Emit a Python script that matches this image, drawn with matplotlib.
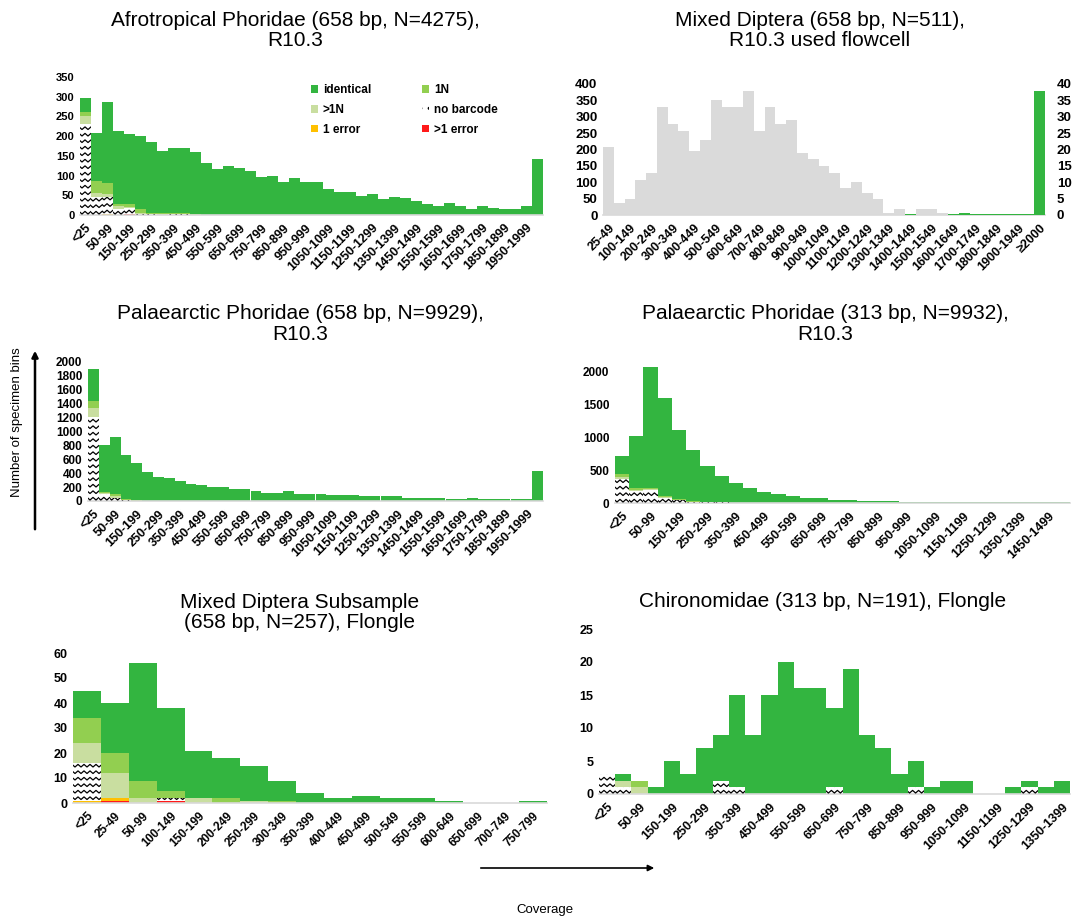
"""
Coverage histograms of specimen bins for six sequencing runs, stacked by
barcode outcome (identical / 1N / >1N / no barcode / 1 error / >1 error).
"""

import numpy as np
import matplotlib
import matplotlib.pyplot as plt
from matplotlib.lines import Line2D
from matplotlib.patches import Patch, FancyArrowPatch
from matplotlib.transforms import IdentityTransform

matplotlib.use('Agg')
plt.rcParams['font.family'] = ['Liberation Sans', 'DejaVu Sans']

# =============================================================================
# DATA
# =============================================================================

CATS_AFRO = ['<25', '25-49'] + [f'{a}-{a + 49}' for a in range(50, 2000, 50)] + ['\u22652000']
CATS_MIXED = ['25-49'] + [f'{a}-{a + 49}' for a in range(50, 2000, 50)] + ['\u22652000']
CATS_PAL313 = ['<25', '25-49'] + [f'{a}-{a + 49}' for a in range(50, 1500, 50)] + ['\u22651500']
CATS_SUB = ['<25', '25-49'] + [f'{a}-{a + 49}' for a in range(50, 800, 50)]
CATS_CHIR = ['<25', '25-49'] + [f'{a}-{a + 49}' for a in range(50, 1400, 50)]

# Afrotropical Phoridae (658 bp)
afro_identical = [38, 120, 206, 185, 176, 185, 180, 158, 165, 166, 158, 131, 116, 124,
                  118, 112, 97, 99, 84, 93, 83, 83, 67, 59, 59, 48, 53, 40, 46, 44,
                  36, 28, 24, 31, 24, 15, 24, 19, 15, 15, 24, 141]
afro_1n = [10, 32, 28, 5, 8, 10, 3, 2, 2, 1, 1, 1, 0, 0, 0, 0, 0, 0, 0, 0, 0,
           0, 0, 0, 0, 0, 0, 0, 0, 0, 0, 0, 0, 0, 0, 0, 0, 0, 0, 0, 0, 0]
afro_gt1n = [20, 10, 8, 8, 3, 2, 1, 1, 1, 1, 0, 0, 0, 0, 0, 0, 0, 0, 0, 0, 0,
             0, 0, 0, 0, 0, 0, 0, 0, 0, 0, 0, 0, 0, 0, 0, 0, 0, 0, 0, 0, 0]
afro_nobarcode = [230, 45, 42, 15, 15, 3, 2, 1, 2, 2, 1, 0, 0, 0, 0, 0, 0, 0, 0, 0, 0,
                  0, 0, 0, 0, 0, 0, 0, 0, 0, 0, 0, 0, 0, 0, 0, 0, 0, 0, 0, 0, 0]
afro_err1 = [0, 0, 3, 0, 0, 0, 0, 0, 0, 0, 0, 0, 0, 0, 0, 0, 0, 0, 0, 0, 0,
             0, 0, 0, 0, 0, 0, 0, 0, 0, 0, 0, 0, 0, 0, 0, 0, 0, 0, 0, 0, 0]
afro_errgt1 = [0, 0, 0, 0, 3, 0, 0, 0, 0, 0, 0, 0, 0, 0, 0, 0, 0, 0, 0, 0, 0,
               0, 0, 0, 0, 0, 0, 0, 0, 0, 0, 0, 0, 0, 0, 0, 0, 0, 0, 0, 0, 0]

# Mixed Diptera (658 bp), used flowcell: grey on left axis, green on right axis
mixed_grey = [209, 38, 48, 107, 128, 330, 279, 258, 196, 230, 350, 330, 330, 380,
              257, 330, 278, 291, 189, 170, 150, 128, 82, 100, 68, 48, 7, 18, 0,
              18, 18, 5, 0, 0, 0, 0, 0, 0, 0, 0, 0]
mixed_green = [0, 0, 0, 0, 0, 0, 0, 0, 0, 0, 0, 0, 0, 0, 0, 0, 0, 0, 0, 0, 0, 0,
               0, 0, 0, 0, 0, 0, 0.3, 0, 0, 0, 0.3, 0.7, 0.3, 0.3, 0.3, 0.3, 0.3,
               0.3, 38]

# Palaearctic Phoridae (658 bp)
pal658_identical = [458, 670, 825, 630, 539, 419, 347, 333, 289, 241, 227, 202, 202,
                    178, 178, 140, 116, 116, 140, 106, 106, 96, 87, 87, 87, 72, 72,
                    67, 67, 48, 48, 48, 43, 29, 29, 48, 24, 24, 24, 24, 24, 434]
pal658_1n = [96, 20, 30, 15, 10, 0, 0, 0, 0, 0, 0, 0, 0, 0, 0, 0, 0, 0, 0, 0, 0,
             0, 0, 0, 0, 0, 0, 0, 0, 0, 0, 0, 0, 0, 0, 0, 0, 0, 0, 0, 0, 0]
pal658_gt1n = [140, 15, 20, 5, 0, 0, 0, 0, 0, 0, 0, 0, 0, 0, 0, 0, 0, 0, 0, 0, 0,
               0, 0, 0, 0, 0, 0, 0, 0, 0, 0, 0, 0, 0, 0, 0, 0, 0, 0, 0, 0, 0]
pal658_nobarcode = [1205, 100, 50, 10, 0, 0, 0, 0, 0, 0, 0, 0, 0, 0, 0, 0, 0, 0, 0, 0, 0,
                    0, 0, 0, 0, 0, 0, 0, 0, 0, 0, 0, 0, 0, 0, 0, 0, 0, 0, 0, 0, 0]

# Palaearctic Phoridae (313 bp)
pal313_identical = [284, 783, 1821, 1495, 1049, 775, 547, 400, 309, 233, 172, 142,
                    101, 76, 76, 51, 51, 30, 30, 30, 15, 15, 10, 10, 10, 10, 8, 8,
                    8, 8, 8, 8]
pal313_1n = [35, 30, 20, 20, 15, 5, 0, 0, 0, 0, 0, 0, 0, 0, 0, 0,
             0, 0, 0, 0, 0, 0, 0, 0, 0, 0, 0, 0, 0, 0, 0, 0]
pal313_gt1n = [30, 20, 15, 5, 0, 0, 0, 0, 0, 0, 0, 0, 0, 0, 0, 0,
               0, 0, 0, 0, 0, 0, 0, 0, 0, 0, 0, 0, 0, 0, 0, 0]
pal313_nobarcode = [370, 180, 200, 80, 50, 20, 15, 10, 0, 0, 0, 0, 0, 0, 0, 0,
                    0, 0, 0, 0, 0, 0, 0, 0, 0, 0, 0, 0, 0, 0, 0, 0]

# Mixed Diptera subsample (658 bp), Flongle
sub_identical = [11, 20, 47, 33, 19, 16, 14, 8, 4, 2, 3, 2, 2, 1, 0, 0, 1]
sub_1n = [10, 8, 7, 3, 0, 2, 0, 1, 0, 0, 0, 0, 0, 0, 0, 0, 0]
sub_gt1n = [8, 10, 2, 0, 2, 0, 1, 0, 0, 0, 0, 0, 0, 0, 0, 0, 0]
sub_nobarcode = [15, 0, 0, 1, 0, 0, 0, 0, 0, 0, 0, 0, 0, 0, 0, 0, 0]
sub_err1 = [1, 1, 0, 0, 0, 0, 0, 0, 0, 0, 0, 0, 0, 0, 0, 0, 0]
sub_errgt1 = [0, 1, 0, 1, 0, 0, 0, 0, 0, 0, 0, 0, 0, 0, 0, 0, 0]

# Chironomidae (313 bp), Flongle
chir_identical = [0, 1, 0, 1, 5, 3, 7, 7, 14, 9, 15, 20, 16, 16, 12, 19, 9, 7, 3,
                  4, 1, 2, 2, 0, 0, 1, 1, 1, 2]
chir_1n = [0, 0, 1, 0, 0, 0, 0, 0, 0, 0, 0, 0, 0, 0, 0, 0, 0, 0, 0,
           0, 0, 0, 0, 0, 0, 0, 0, 0, 0]
chir_gt1n = [0, 1, 1, 0, 0, 0, 0, 0, 0, 0, 0, 0, 0, 0, 0, 0, 0, 0, 0,
             0, 0, 0, 0, 0, 0, 0, 0, 0, 0]
chir_nobarcode = [3, 1, 0, 0, 0, 0, 0, 2, 1, 0, 0, 0, 0, 0, 1, 0, 0, 0, 0,
                  1, 0, 0, 0, 0, 0, 0, 1, 0, 0]

# =============================================================================
# STYLE
# =============================================================================

C_IDENT = '#33b540'
C_1N = '#92cf50'
C_GT1N = '#c9dea0'
C_ERR1 = '#ffc000'
C_ERRGT1 = '#ff1a1a'
C_GREY = '#dadada'
W, H = 1073, 919


def px_box(left, right, bottom, top):
    """Axes rectangle from pixel edges of the reference image."""
    return [left / W, 1 - bottom / H, (right - left) / W, (bottom - top) / H]


def zigzag(fig, bars):
    """White bars with a black wavy (chevron) texture, clipped to each bar."""
    for rect in bars:
        if rect.get_height() <= 0:
            continue
        bb = rect.get_window_extent()
        xs = np.arange(bb.x0 - 4, bb.x1 + 4, 3.0)
        y = bb.y0 + 1.0
        while y < bb.y1 + 3:
            ys = y + 2.6 * (np.arange(len(xs)) % 2)
            ln = Line2D(xs, ys, transform=IdentityTransform(), color='black',
                        lw=0.9, zorder=3)
            ln.set_clip_path(rect)
            fig.add_artist(ln)
            y += 6.5


def bold_ticks(labels, size):
    for lab in labels:
        lab.set_fontsize(size)
        lab.set_fontweight('bold')


def style_axis(ax, cats, step, yticks, ymax, ysize, xsize=9):
    n = len(cats)
    ax.set_xlim(-0.5, n - 0.5)
    ax.set_ylim(0, ymax)
    idx = np.arange(n)
    ax.set_xticks(idx[::step])
    ax.set_xticklabels(cats[::step], rotation=45, ha='right',
                       rotation_mode='anchor', fontsize=xsize,
                       fontweight='bold')
    ax.set_yticks(yticks)
    ax.tick_params(length=0, pad=4)
    ax.tick_params(axis='x', pad=5)
    bold_ticks(ax.get_yticklabels(), ysize)
    for s in ('top', 'right', 'left'):
        ax.spines[s].set_visible(False)
    ax.spines['bottom'].set_color('#d9d9d9')
    ax.spines['bottom'].set_linewidth(1.2)


def draw_stack(fig, ax, identical, one_n, gt_one_n, nobarcode, err1=None, errgt1=None):
    n = len(identical)
    x = np.arange(n)
    bottom = np.zeros(n)
    layers = [(errgt1, C_ERRGT1), (err1, C_ERR1), (nobarcode, 'white'),
              (gt_one_n, C_GT1N), (one_n, C_1N), (identical, C_IDENT)]
    for vals, col in layers:
        if vals is None:
            continue
        vals = np.asarray(vals, dtype=float)
        bars = ax.bar(x, vals, bottom=bottom, width=1.0, color=col,
                      edgecolor='none', linewidth=0)
        if col == 'white':
            zigzag(fig, bars)
        bottom += vals


def title(fig, xc, ytop, text):
    fig.text(xc / W, 1 - ytop / H, text, ha='center', va='top',
             fontsize=15, linespacing=1.1)


# =============================================================================
# FIGURE
# =============================================================================

fig = plt.figure(figsize=(W / 100, H / 100), dpi=100)

# (1) Afrotropical Phoridae
ax1 = fig.add_axes(px_box(80, 543, 215, 77))
style_axis(ax1, CATS_AFRO, 2, range(0, 351, 50), 350, 8)
draw_stack(fig, ax1, afro_identical, afro_1n, afro_gt1n, afro_nobarcode,
           afro_err1, afro_errgt1)
title(fig, 295, 11, 'Afrotropical Phoridae (658 bp, N=4275),\nR10.3')

handles = [Patch(facecolor=C_IDENT), Patch(facecolor=C_GT1N),
           Patch(facecolor=C_ERR1), Patch(facecolor=C_1N),
           Patch(facecolor='white', hatch='..', edgecolor='black', lw=0),
           Patch(facecolor=C_ERRGT1)]
labels = ['identical', '>1N', '1 error', '1N', 'no barcode', '>1 error']
ax1.legend(handles, labels, ncol=2, loc='upper left',
           bbox_to_anchor=(0.486, 0.99), frameon=False,
           prop={'size': 8.5, 'weight': 'bold'},
           handlelength=0.6, handleheight=0.6, handletextpad=0.4,
           columnspacing=4.35, labelspacing=0.65, borderpad=0)

# (2) Mixed Diptera, used flowcell
ax2 = fig.add_axes(px_box(603, 1045, 215, 84))
style_axis(ax2, CATS_MIXED, 2, range(0, 401, 50), 400, 9.5)
ax2.bar(np.arange(len(mixed_grey)), mixed_grey, width=1.0, color=C_GREY,
        edgecolor='none')
ax2b = ax2.twinx()
ax2b.set_ylim(0, 40)
ax2b.set_yticks(range(0, 41, 5))
ax2b.tick_params(length=0, pad=8.5)
bold_ticks(ax2b.get_yticklabels(), 9.5)
for s in ax2b.spines.values():
    s.set_visible(False)
ax2b.bar(np.arange(len(mixed_green)), mixed_green, width=1.0, color=C_IDENT,
         edgecolor='none')
title(fig, 820, 11, 'Mixed Diptera (658 bp, N=511),\nR10.3 used flowcell')

# (3) Palaearctic Phoridae 658 bp
ax3 = fig.add_axes(px_box(88, 543, 501, 362))
style_axis(ax3, CATS_AFRO, 2, range(0, 2001, 200), 2000, 8.5)
draw_stack(fig, ax3, pal658_identical, pal658_1n, pal658_gt1n, pal658_nobarcode)
title(fig, 300, 304, 'Palaearctic Phoridae (658 bp, N=9929),\nR10.3')

# (4) Palaearctic Phoridae 313 bp
ax4 = fig.add_axes(px_box(615, 1070, 503, 358))
style_axis(ax4, CATS_PAL313, 2, range(0, 2001, 500), 2200, 8.5)
draw_stack(fig, ax4, pal313_identical, pal313_1n, pal313_gt1n, pal313_nobarcode)
title(fig, 825, 304, 'Palaearctic Phoridae (313 bp, N=9932),\nR10.3')

# (5) Mixed Diptera subsample, Flongle
ax5 = fig.add_axes(px_box(73, 547, 803, 653))
style_axis(ax5, CATS_SUB, 1, range(0, 61, 10), 60, 9, 8.5)
draw_stack(fig, ax5, sub_identical, sub_1n, sub_gt1n, sub_nobarcode,
           sub_err1, sub_errgt1)
title(fig, 300, 593, 'Mixed Diptera Subsample\n(658 bp, N=257), Flongle')

# (6) Chironomidae, Flongle
ax6 = fig.add_axes(px_box(599, 1070, 794, 629))
style_axis(ax6, CATS_CHIR, 2, range(0, 26, 5), 25, 9)
draw_stack(fig, ax6, chir_identical, chir_1n, chir_gt1n, chir_nobarcode)
title(fig, 823, 592, 'Chironomidae (313 bp, N=191), Flongle')

# shared axis labels with arrows
fig.add_artist(FancyArrowPatch((35 / W, 1 - 532 / H), (35 / W, 1 - 348 / H),
                               transform=fig.transFigure, arrowstyle='-|>',
                               mutation_scale=9, lw=1.8, color='black'))
fig.text(17 / W, 1 - 422 / H, 'Number of specimen bins', rotation=90,
         ha='center', va='center', fontsize=9.5)
fig.add_artist(FancyArrowPatch((478 / W, 1 - 868 / H), (657 / W, 1 - 868 / H),
                               transform=fig.transFigure, arrowstyle='-|>',
                               mutation_scale=9, lw=1.2, color='black'))
fig.text(545 / W, 1 - 910 / H, 'Coverage', ha='center', va='center', fontsize=9.5)

fig.savefig('out.png', dpi=100)
